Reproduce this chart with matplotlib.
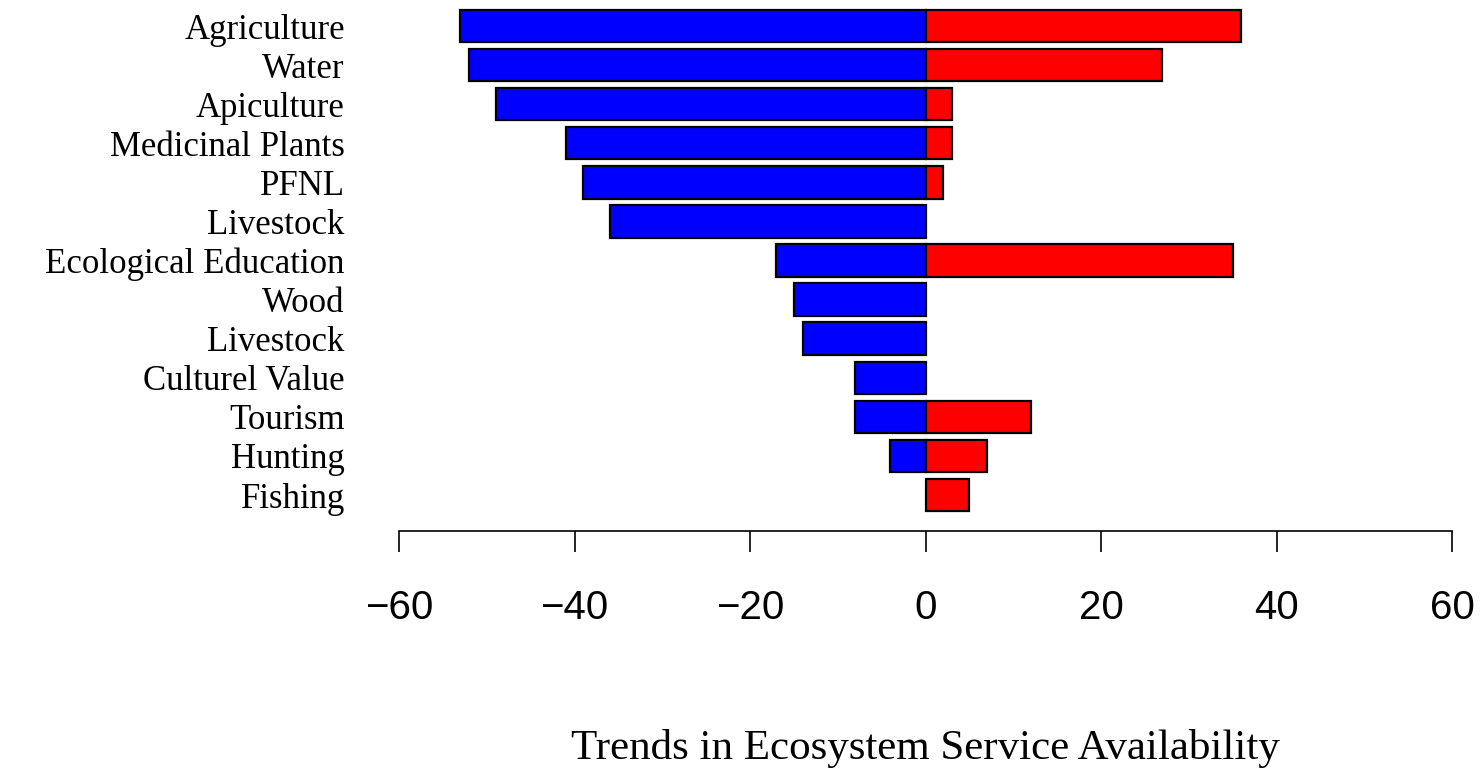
import matplotlib.pyplot as plt
import numpy as np

# services, top to bottom as in the figure
services = [
    "Agriculture", "Water", "Apiculture", "Medicinal Plants", "PFNL",
    "Livestock", "Ecological Education", "Wood", "Livestock",
    "Culturel Value", "Tourism", "Hunting", "Fishing",
]
decrease = [-53, -52, -49, -41, -39, -36, -17, -15, -14, -8, -8, -4, 0]
increase = [36, 27, 3, 3, 2, 0, 35, 0, 0, 0, 12, 7, 5]

x_ticks = [-60, -40, -20, 0, 20, 40, 60]

SERIF = ["Liberation Serif", "DejaVu Serif"]
SANS = ["Liberation Sans", "DejaVu Sans"]

fig = plt.figure(figsize=(14.83, 7.70), dpi=100)
ax = fig.add_axes([399 / 1483, 1 - 531 / 770, (1452 - 399) / 1483, 531 / 770])

n = len(services)
ypos = np.arange(n)[::-1]

for vals, col in ((decrease, "#0000ff"), (increase, "#ff0000")):
    for y, v in zip(ypos, vals):
        if v == 0:
            continue
        ax.barh(y, v, height=0.83, color=col, edgecolor="black", linewidth=1.6)

ax.set_xlim(-60, 60)
ax.set_ylim(-0.92, n - 1 + 26 / 39.08)

for side in ("top", "right", "left"):
    ax.spines[side].set_visible(False)
ax.spines["bottom"].set_linewidth(1.2)
ax.spines["bottom"].set_bounds(-60, 60)

ax.set_xticks(x_ticks)
ax.set_xticklabels([str(t).replace("-", "\u2212") for t in x_ticks],
                   fontsize=29, family=SANS)
ax.tick_params(axis="x", length=15, width=1.2, pad=27)

ax.set_yticks(ypos)
ax.set_yticklabels(services, fontsize=25, family=SERIF)
ax.tick_params(axis="y", length=0, pad=39)

fig.text(925 / 1483, 1 - 748 / 770, "Trends in Ecosystem Service Availability",
         ha="center", va="center", fontsize=31, family=SERIF)

fig.savefig("out.png", dpi=100)
